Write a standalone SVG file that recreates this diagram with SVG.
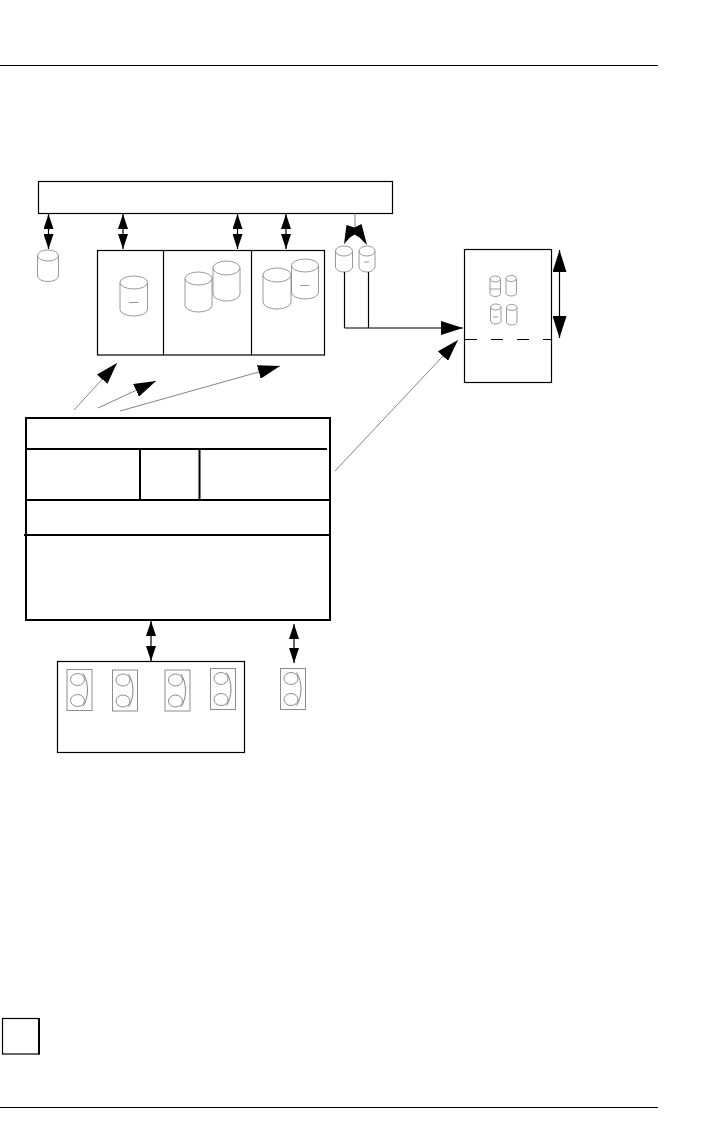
<svg xmlns="http://www.w3.org/2000/svg" width="720" height="1137" viewBox="0 0 720 1137">
<style>
.box{fill:none;stroke:#000;stroke-width:1.2}
.thick{fill:none;stroke:#000;stroke-width:2}
.cyl{fill:#fff;stroke:#808080;stroke-width:.8}
.tape{fill:#fff;stroke:#808080;stroke-width:.9}
.shaft{fill:none;stroke:#000;stroke-width:1.2}
.thin{fill:none;stroke:#666;stroke-width:.8}
.rule{stroke:#000;stroke-width:1}
.dash{stroke:#000;stroke-width:1.2;stroke-dasharray:12 14}
.head{fill:#000}
</style>
<defs>
<marker id="h" viewBox="0 0 10 10" refX="10" refY="5" markerUnits="userSpaceOnUse" markerWidth="15" markerHeight="10" orient="auto-start-reverse" preserveAspectRatio="none"><path d="M0 0L10 5L0 10Z" class="head"/></marker>
<marker id="L" viewBox="0 0 10 10" refX="10" refY="5" markerUnits="userSpaceOnUse" markerWidth="22" markerHeight="14" orient="auto-start-reverse" preserveAspectRatio="none"><path d="M0 0L10 5L0 10Z" class="head"/></marker>
<g id="tapeshape"><rect x="0" y="0" width="25" height="41" class="tape"/><ellipse cx="10.5" cy="10" rx="7" ry="6" class="tape"/><ellipse cx="10.5" cy="31" rx="7" ry="6" class="tape"/><path d="M16 4C22 13 22 28 16 37" class="thin"/></g>
</defs>
<g id="page">
<line x1="0" y1="65.5" x2="658" y2="65.5" class="rule"/>
<line x1="0" y1="1107.5" x2="658" y2="1107.5" class="rule"/>
<rect x="2.5" y="1018.5" width="36.5" height="35.5" class="box"/>
<path d="M39 1018V1054.5" class="thick"/>
</g>
<g id="top-bar"><rect x="38.5" y="181.5" width="354" height="32" class="box"/></g>
<g id="disk-single"><path d="M37.5 255.5A10.5 5.5 0 0 1 58.5 255.5V276A10.5 5.5 0 0 1 37.5 276Z" class="cyl"/><path d="M37.5 255.5A10.5 5.5 0 0 0 58.5 255.5" class="cyl"/></g>
<g id="subsystem">
<rect x="97.5" y="250.5" width="227" height="104.5" class="box"/>
<line x1="163.5" y1="250.5" x2="163.5" y2="355" class="box"/>
<line x1="251.5" y1="250.5" x2="251.5" y2="355" class="box"/>
<path d="M120 282.5A13.75 6.5 0 0 1 147.5 282.5V309.5A13.75 6.5 0 0 1 120 309.5Z" class="cyl"/><path d="M120 282.5A13.75 6.5 0 0 0 147.5 282.5M129 302.5H139" class="cyl"/>
<path d="M213 268A13.5 7 0 0 1 240 268V294A13.5 7 0 0 1 213 294Z" class="cyl"/><path d="M213 268A13.5 7 0 0 0 240 268" class="cyl"/>
<path d="M185 278.5A13.5 6.5 0 0 1 212 278.5V305.5A13.5 6.5 0 0 1 185 305.5Z" class="cyl"/><path d="M185 278.5A13.5 6.5 0 0 0 212 278.5" class="cyl"/>
<path d="M291.5 265.5A13.5 6.5 0 0 1 318.5 265.5V292.5A13.5 6.5 0 0 1 291.5 292.5Z" class="cyl"/><path d="M291.5 265.5A13.5 6.5 0 0 0 318.5 265.5M300 285.5H309" class="cyl"/>
<path d="M263 275A14 7 0 0 1 291 275V302A14 7 0 0 1 263 302Z" class="cyl"/><path d="M263 275A14 7 0 0 0 291 275" class="cyl"/>
</g>
<g id="disk-pair">
<path d="M335.5 251A8.5 5 0 0 1 352.5 251V267A8.5 5 0 0 1 335.5 267Z" class="cyl"/><path d="M335.5 251A8.5 5 0 0 0 352.5 251" class="cyl"/>
<path d="M359 251A8 5 0 0 1 375 251V267A8 5 0 0 1 359 267Z" class="cyl"/><path d="M359 251A8 5 0 0 0 375 251M364 262H369" class="cyl"/>
</g>
<g id="library">
<rect x="464.5" y="249.5" width="87" height="133" class="box"/>
<line x1="465" y1="339.5" x2="551" y2="339.5" class="dash"/>
<path d="M490 279A5.25 3 0 0 1 500.5 279V293.5A5.25 3 0 0 1 490 293.5Z" class="cyl"/><path d="M490 279A5.25 3 0 0 0 500.5 279M490 289H500.5" class="cyl"/>
<path d="M506 278.5A5.25 3 0 0 1 516.5 278.5V293A5.25 3 0 0 1 506 293Z" class="cyl"/><path d="M506 278.5A5.25 3 0 0 0 516.5 278.5" class="cyl"/>
<path d="M490.5 307A5.25 3 0 0 1 501 307V321A5.25 3 0 0 1 490.5 321Z" class="cyl"/><path d="M490.5 307A5.25 3 0 0 0 501 307M493 317H498" class="cyl"/>
<path d="M506.5 307.5A5.25 3 0 0 1 517 307.5V322A5.25 3 0 0 1 506.5 322Z" class="cyl"/><path d="M506.5 307.5A5.25 3 0 0 0 517 307.5" class="cyl"/>
</g>
<g id="host">
<rect x="26" y="418" width="304" height="202" class="thick"/>
<line x1="26" y1="449" x2="327" y2="449" class="thick"/>
<line x1="26" y1="500" x2="330" y2="500" class="thick"/>
<line x1="24" y1="535" x2="330" y2="535" class="thick"/>
<line x1="140" y1="449" x2="140" y2="500" class="thick"/>
<line x1="199.5" y1="449" x2="199.5" y2="500" class="thick"/>
</g>
<g id="tape-library"><rect x="57.5" y="661.5" width="187" height="91" class="box"/>
<use href="#tapeshape" x="67" y="669.5"/><use href="#tapeshape" x="112.5" y="670"/><use href="#tapeshape" x="165" y="670"/><use href="#tapeshape" x="210.5" y="668.5"/></g>
<g id="tape-single"><use href="#tapeshape" x="280.5" y="668.5"/></g>
<g id="connectors">
<line x1="48.5" y1="214" x2="48.5" y2="249" class="shaft" marker-start="url(#h)" marker-end="url(#h)"/>
<line x1="123" y1="214" x2="123" y2="249" class="shaft" marker-start="url(#h)" marker-end="url(#h)"/>
<line x1="237.5" y1="214" x2="237.5" y2="249" class="shaft" marker-start="url(#h)" marker-end="url(#h)"/>
<line x1="286" y1="214" x2="286" y2="249" class="shaft" marker-start="url(#h)" marker-end="url(#h)"/>
<line x1="355" y1="213.5" x2="355" y2="228" class="thin"/>
<path d="M344 244L346.5 225L354.5 227.5L361.5 224L367 245L359.500 237.5L354.5 234.5L350 237.5Z" class="head"/>
<path d="M344.5 272V328M368.5 272V328" class="shaft"/>
<line x1="344.5" y1="328" x2="463" y2="328" class="shaft" marker-end="url(#L)"/>
<line x1="559.5" y1="250" x2="559.5" y2="338" class="shaft" marker-start="url(#L)" marker-end="url(#L)"/>
<line x1="74" y1="410" x2="117" y2="363" class="thin" marker-end="url(#L)"/>
<line x1="98" y1="408" x2="156" y2="381" class="thin" marker-end="url(#L)"/>
<line x1="120" y1="411" x2="280" y2="366" class="thin" marker-end="url(#L)"/>
<line x1="335" y1="471" x2="458" y2="340" class="thin" marker-end="url(#L)"/>
<line x1="151" y1="621" x2="151" y2="661" class="shaft" marker-start="url(#h)" marker-end="url(#h)"/>
<line x1="294" y1="624" x2="294" y2="663" class="shaft" marker-start="url(#h)" marker-end="url(#h)"/>
</g>
</svg>
